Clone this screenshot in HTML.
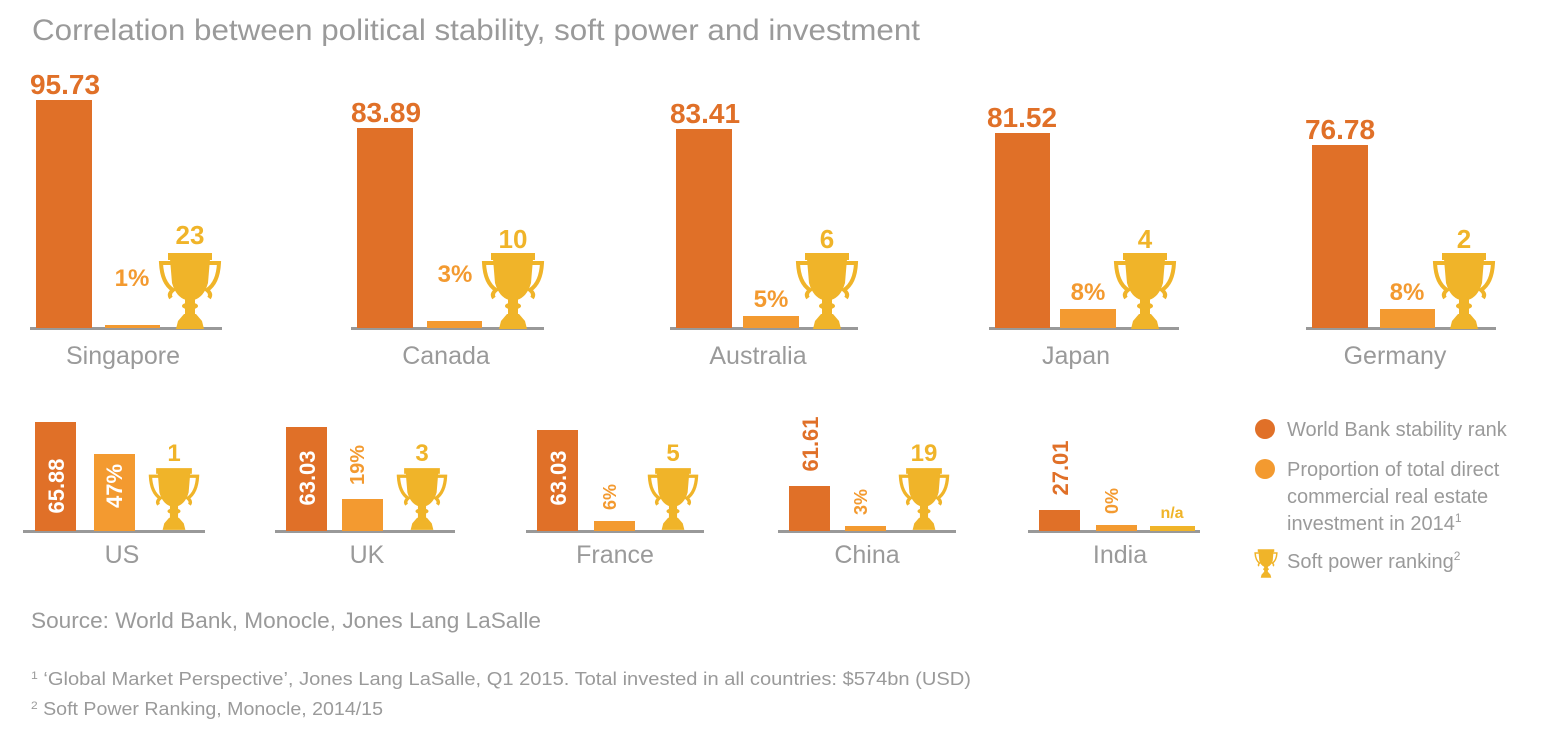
<!DOCTYPE html>
<html><head><meta charset="utf-8"><style>body{margin:0;background:#fff}svg{display:block}</style></head>
<body>
<svg width="1561" height="742" viewBox="0 0 1561 742" xmlns="http://www.w3.org/2000/svg" font-family="Liberation Sans, sans-serif">
<defs>
<symbol id="tr" viewBox="0 0 64 76">
<rect x="10" y="0" width="44" height="7" fill="#f0b429"/>
<path d="M12 6 L52 6 L50 30 Q46 44 36 47 L28 47 Q18 44 14 30 Z" fill="#f0b429"/>
<path d="M13 10 L3 10 Q4 30 15 37 Q10 41 13 45" fill="none" stroke="#f0b429" stroke-width="4"/>
<path d="M51 10 L61 10 Q60 30 49 37 Q54 41 51 45" fill="none" stroke="#f0b429" stroke-width="4"/>
<rect x="27" y="45" width="10" height="18" fill="#f0b429"/>
<ellipse cx="32" cy="53" rx="8" ry="3.5" fill="#f0b429"/>
<path d="M18 76 L20 68 L26 61 L38 61 L44 68 L46 76 Z" fill="#f0b429"/>
</symbol>
</defs>
<text x="32" y="40" font-size="30" fill="#9a9a9a" textLength="888" lengthAdjust="spacingAndGlyphs">Correlation between political stability, soft power and investment</text>

<g fill="#9a9a9a" font-size="25" text-anchor="middle">
<text x="123" y="364">Singapore</text><text x="446" y="364">Canada</text><text x="758" y="364">Australia</text><text x="1076" y="364">Japan</text><text x="1395" y="364">Germany</text>
<text x="122" y="563">US</text><text x="367" y="563">UK</text><text x="615" y="563">France</text><text x="867" y="563">China</text><text x="1120" y="563">India</text>
</g>

<g fill="#999">
<rect x="30" y="327" width="192" height="3"/><rect x="351" y="327" width="193" height="3"/><rect x="670" y="327" width="188" height="3"/><rect x="989" y="327" width="190" height="3"/><rect x="1306" y="327" width="190" height="3"/>
<rect x="23" y="530" width="182" height="3"/><rect x="275" y="530" width="180" height="3"/><rect x="526" y="530" width="178" height="3"/><rect x="778" y="530" width="178" height="3"/><rect x="1028" y="530" width="172" height="3"/>
</g>

<g fill="#e07028">
<rect x="36" y="100" width="56" height="228"/><rect x="357" y="128" width="56" height="200"/><rect x="676" y="129" width="56" height="199"/><rect x="995" y="133" width="55" height="195"/><rect x="1312" y="145" width="56" height="183"/>
<rect x="35" y="422" width="41" height="109"/><rect x="286" y="427" width="41" height="104"/><rect x="537" y="430" width="41" height="101"/><rect x="789" y="486" width="41" height="45"/><rect x="1039" y="510" width="41" height="21"/>
</g>
<g fill="#f39a30">
<rect x="105" y="325" width="55" height="3"/><rect x="427" y="321" width="55" height="7"/><rect x="743" y="316" width="56" height="12"/><rect x="1060" y="309" width="56" height="19"/><rect x="1380" y="309" width="55" height="19"/>
<rect x="94" y="454" width="41" height="77"/><rect x="342" y="499" width="41" height="32"/><rect x="594" y="521" width="41" height="10"/><rect x="845" y="526" width="41" height="5"/><rect x="1096" y="525" width="41" height="6"/>
</g>
<rect x="1150" y="526" width="45" height="5" fill="#f0b429"/>

<use href="#tr" x="158" y="253" width="64" height="76"/><use href="#tr" x="481" y="253" width="64" height="76"/><use href="#tr" x="795" y="253" width="64" height="76"/><use href="#tr" x="1113" y="253" width="64" height="76"/><use href="#tr" x="1432" y="253" width="64" height="76"/>
<use href="#tr" x="148" y="468" width="52" height="62"/><use href="#tr" x="396" y="468" width="52" height="62"/><use href="#tr" x="647" y="468" width="52" height="62"/><use href="#tr" x="898" y="468" width="52" height="62"/>

<g font-weight="bold" font-size="28" fill="#e07028" text-anchor="middle">
<text x="65" y="94">95.73</text><text x="386" y="122">83.89</text><text x="705" y="123">83.41</text><text x="1022" y="127">81.52</text><text x="1340" y="139">76.78</text>
</g>
<g font-weight="bold" font-size="24" fill="#f39a30" text-anchor="middle">
<text x="132" y="286">1%</text><text x="455" y="282">3%</text><text x="771" y="307">5%</text><text x="1088" y="300">8%</text><text x="1407" y="300">8%</text>
</g>
<g font-weight="bold" font-size="26" fill="#f0b429" text-anchor="middle">
<text x="190" y="244">23</text><text x="513" y="248">10</text><text x="827" y="248">6</text><text x="1145" y="248">4</text><text x="1464" y="248">2</text>
<text x="174" y="461" font-size="24">1</text><text x="422" y="461" font-size="24">3</text><text x="673" y="461" font-size="24">5</text><text x="924" y="461" font-size="24">19</text><text x="1172" y="518" font-size="16">n/a</text>
</g>
<g font-weight="bold" font-size="22" text-anchor="middle">
<text transform="translate(64,486) rotate(-90)" fill="#fff">65.88</text>
<text transform="translate(122,486) rotate(-90)" fill="#fff">47%</text>
<text transform="translate(315,478) rotate(-90)" fill="#fff">63.03</text>
<text transform="translate(364,465) rotate(-90)" fill="#f39a30" font-size="20">19%</text>
<text transform="translate(566,478) rotate(-90)" fill="#fff">63.03</text>
<text transform="translate(616,497) rotate(-90)" fill="#f39a30" font-size="18">6%</text>
<text transform="translate(818,444) rotate(-90)" fill="#e07028">61.61</text>
<text transform="translate(867,502) rotate(-90)" fill="#f39a30" font-size="18">3%</text>
<text transform="translate(1068,468) rotate(-90)" fill="#e07028">27.01</text>
<text transform="translate(1118,501) rotate(-90)" fill="#f39a30" font-size="18">0%</text>
</g>

<circle cx="1265" cy="429" r="10" fill="#e07028"/>
<circle cx="1265" cy="469" r="10" fill="#f39a30"/>
<use href="#tr" x="1254" y="549" width="24" height="29"/>
<g fill="#9a9a9a" font-size="20">
<text x="1287" y="436">World Bank stability rank</text>
<text x="1287" y="476">Proportion of total direct</text>
<text x="1287" y="503">commercial real estate</text>
<text x="1287" y="530">investment in 2014<tspan font-size="12" dy="-8">1</tspan></text>
<text x="1287" y="568">Soft power ranking<tspan font-size="12" dy="-8">2</tspan></text>
</g>
<text x="31" y="628" font-size="22" fill="#9a9a9a" textLength="510" lengthAdjust="spacingAndGlyphs">Source: World Bank, Monocle, Jones Lang LaSalle</text>
<text x="31" y="685" font-size="18" fill="#9a9a9a" textLength="940" lengthAdjust="spacingAndGlyphs"><tspan font-size="11" dy="-6">1</tspan><tspan dy="6"> ‘Global Market Perspective’, Jones Lang LaSalle, Q1 2015. Total invested in all countries: $574bn (USD)</tspan></text>
<text x="31" y="715" font-size="18" fill="#9a9a9a" textLength="352" lengthAdjust="spacingAndGlyphs"><tspan font-size="11" dy="-6">2</tspan><tspan dy="6"> Soft Power Ranking, Monocle, 2014/15</tspan></text>
</svg>
</body></html>
